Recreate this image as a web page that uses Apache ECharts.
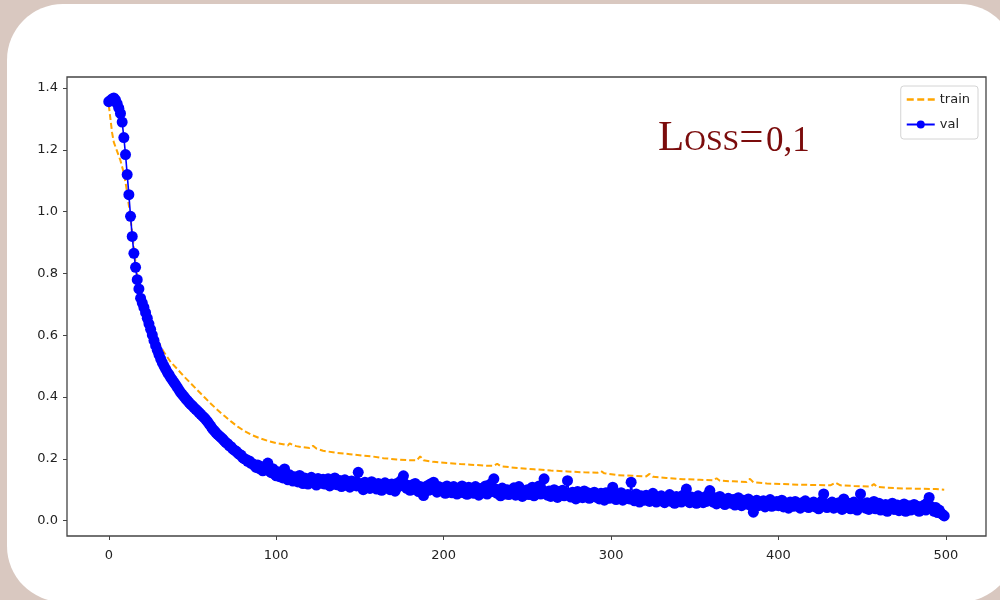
<!DOCTYPE html>
<html><head><meta charset="utf-8">
<script src="https://cdn.jsdelivr.net/npm/echarts@6/dist/echarts.min.js"></script>
<style>html,body{margin:0;padding:0;background:#d9c8c0;}#c{width:1000px;height:600px;}</style>
</head><body><div id="c"></div>
<script>
// validation loss, one value per epoch (0..499)
const valLoss = [
1.356,1.360,1.365,1.368,1.362,1.350,1.335,1.318,1.290,1.240,
1.185,1.120,1.055,0.985,0.920,0.865,0.820,0.780,0.750,0.720,
0.705,0.690,0.673,0.655,0.637,0.619,0.601,0.583,0.566,0.551,
0.537,0.523,0.511,0.500,0.490,0.480,0.472,0.463,0.455,0.447,
0.439,0.431,0.422,0.414,0.408,0.401,0.394,0.388,0.382,0.376,
0.371,0.365,0.360,0.355,0.349,0.344,0.338,0.333,0.327,0.320,
0.312,0.305,0.297,0.291,0.285,0.279,0.274,0.269,0.264,0.258,
0.252,0.249,0.242,0.239,0.232,0.228,0.225,0.219,0.214,0.212,
0.204,0.200,0.198,0.192,0.193,0.185,0.184,0.179,0.172,0.180,
0.168,0.174,0.161,0.170,0.178,0.186,0.160,0.155,0.168,0.150,
0.145,0.158,0.142,0.150,0.138,0.167,0.140,0.132,0.148,0.136,
0.128,0.142,0.135,0.125,0.146,0.133,0.120,0.138,0.128,0.118,
0.132,0.140,0.122,0.130,0.115,0.136,0.127,0.121,0.134,0.118,
0.126,0.135,0.112,0.128,0.120,0.138,0.116,0.124,0.130,0.110,
0.122,0.132,0.114,0.126,0.108,0.128,0.118,0.125,0.112,0.156,
0.120,0.110,0.100,0.124,0.113,0.118,0.104,0.126,0.108,0.115,
0.102,0.120,0.112,0.098,0.113,0.122,0.106,0.116,0.100,0.118,
0.108,0.095,0.120,0.110,0.126,0.132,0.145,0.118,0.104,0.112,
0.098,0.115,0.106,0.120,0.102,0.094,0.110,0.090,0.081,0.104,
0.112,0.098,0.118,0.108,0.124,0.100,0.092,0.110,0.096,0.106,
0.102,0.088,0.112,0.095,0.104,0.090,0.110,0.098,0.086,0.105,
0.096,0.112,0.090,0.100,0.085,0.108,0.094,0.102,0.088,0.110,
0.095,0.082,0.104,0.098,0.090,0.112,0.086,0.100,0.118,0.094,
0.135,0.102,0.088,0.096,0.080,0.105,0.092,0.086,0.100,0.084,
0.098,0.090,0.106,0.082,0.094,0.110,0.088,0.078,0.096,0.086,
0.100,0.084,0.092,0.108,0.080,0.095,0.088,0.112,0.086,0.098,
0.135,0.090,0.082,0.096,0.078,0.092,0.100,0.085,0.075,0.094,
0.086,0.098,0.080,0.090,0.129,0.084,0.076,0.092,0.088,0.070,
0.094,0.082,0.088,0.074,0.096,0.080,0.090,0.072,0.086,0.078,
0.092,0.076,0.084,0.070,0.088,0.082,0.066,0.090,0.078,0.072,
0.085,0.108,0.076,0.068,0.082,0.074,0.090,0.066,0.080,0.072,
0.084,0.070,0.124,0.078,0.064,0.086,0.072,0.060,0.080,0.074,
0.066,0.082,0.070,0.062,0.078,0.088,0.068,0.060,0.076,0.064,
0.080,0.070,0.058,0.074,0.066,0.084,0.062,0.072,0.056,0.078,
0.068,0.074,0.060,0.082,0.070,0.102,0.064,0.058,0.076,0.066,
0.072,0.056,0.080,0.064,0.070,0.058,0.076,0.062,0.084,0.097,
0.068,0.060,0.074,0.054,0.066,0.078,0.058,0.070,0.052,0.064,
0.072,0.060,0.056,0.068,0.050,0.064,0.074,0.058,0.048,0.066,
0.060,0.054,0.070,0.050,0.062,0.027,0.056,0.066,0.048,0.058,
0.052,0.064,0.044,0.060,0.054,0.068,0.046,0.058,0.050,0.062,
0.048,0.056,0.066,0.044,0.058,0.050,0.040,0.060,0.052,0.046,
0.062,0.048,0.054,0.040,0.058,0.046,0.064,0.050,0.042,0.056,
0.048,0.060,0.044,0.052,0.038,0.056,0.064,0.086,0.050,0.042,
0.054,0.046,0.060,0.040,0.052,0.044,0.058,0.048,0.036,0.070,
0.050,0.042,0.056,0.038,0.048,0.060,0.044,0.034,0.052,0.086,
0.046,0.054,0.040,0.058,0.036,0.050,0.044,0.062,0.038,0.048,
0.056,0.034,0.046,0.040,0.052,0.030,0.048,0.042,0.056,0.036,
0.044,0.050,0.032,0.046,0.038,0.054,0.030,0.042,0.048,0.034,
0.040,0.052,0.036,0.046,0.030,0.044,0.038,0.050,0.034,0.058,
0.075,0.046,0.036,0.030,0.042,0.026,0.034,0.024,0.020,0.015
];
// training loss (epoch, value)
const trainEpochs = [0,1,2,3,4,5,6,7,8,9,10,11,12,13,14,15,16,17,18,19,20,22,24,26,28,30,33,37,41,45,49,53,57,61,65,69,73,77,81,85,90,95,100,105,107,108,110,112,115,120,122,124,128,135,144,152,158,164,172,180,184,186,188,194,202,210,216,224,230,232,234,244,254,264,274,284,292,294,296,304,313,321,323,325,333,343,353,361,363,365,373,381,383,385,393,403,413,423,431,434,437,445,455,457,459,465,475,485,494,499];
const trainLoss = [1.345,1.300,1.255,1.225,1.210,1.195,1.180,1.165,1.145,1.125,1.095,1.060,1.020,0.980,0.930,0.880,0.835,0.795,0.760,0.730,0.705,0.670,0.640,0.615,0.592,0.572,0.545,0.513,0.490,0.466,0.444,0.422,0.400,0.378,0.358,0.339,0.321,0.304,0.290,0.278,0.267,0.258,0.251,0.246,0.243,0.250,0.244,0.241,0.238,0.235,0.242,0.233,0.226,0.220,0.215,0.210,0.207,0.202,0.198,0.195,0.195,0.208,0.195,0.190,0.186,0.183,0.181,0.178,0.177,0.184,0.176,0.170,0.166,0.162,0.159,0.156,0.155,0.160,0.153,0.147,0.145,0.143,0.151,0.142,0.138,0.134,0.132,0.130,0.137,0.129,0.127,0.125,0.135,0.124,0.120,0.118,0.116,0.115,0.114,0.123,0.114,0.112,0.110,0.118,0.109,0.106,0.104,0.103,0.102,0.100];
const xTicks = [0,100,200,300,400,500];
const yTicks = [0.0,0.2,0.4,0.6,0.8,1.0,1.2,1.4];
const seriesNames = ['train','val'];
const annotationMain = 'Loss=';
const annotationValue = '0,1';

const chart = echarts.init(document.getElementById('c'), null, {renderer:'canvas'});
const valData = valLoss.map((v,i)=>[i,v]);
const trainData = trainEpochs.map((e,i)=>[e,trainLoss[i]]);
const tickFont = {fontFamily:'DejaVu Sans', fontSize:13, color:'#222'};
chart.setOption({
  animation:false,
  backgroundColor:'transparent',
  graphic:[
    {type:'rect', z:-10, silent:true, shape:{x:7,y:4,width:1009,height:598,r:56}, style:{fill:'#ffffff'}},
    {type:'text', z:100, x:658, y:139, style:{text:annotationMain, font:'small-caps 43px "Liberation Serif"', fill:'#7b0c0c', textAlign:'left', textVerticalAlign:'middle'}},
    {type:'text', z:100, x:766, y:141.5, style:{text:annotationValue, font:'35px "Liberation Serif"', fill:'#7b0c0c', textAlign:'left', textVerticalAlign:'middle'}}
  ],
  grid:{left:67,right:14,top:77,bottom:64,show:true,borderColor:'#444',borderWidth:1.3,backgroundColor:'transparent'},
  legend:{
    orient:'vertical', right:22, top:86,
    data:[{name:seriesNames[0], icon:'path://M0,0h6v2h-6zM9,0h6v2h-6zM18,0h6v2h-6z'},{name:seriesNames[1]}],
    itemWidth:28, itemHeight:10, itemGap:12,
    padding:[7,8,8,5],
    backgroundColor:'#fff', borderColor:'#d4d4d4', borderWidth:1, borderRadius:3,
    textStyle:{fontFamily:'DejaVu Sans', fontSize:13, color:'#222'},
    selectedMode:false
  },
  xAxis:{
    type:'value', min:-24.95, max:523.95,
    axisLine:{show:false, onZero:false},
    axisTick:{show:true, length:4, customValues:xTicks, lineStyle:{color:'#444',width:1}},
    axisLabel:{customValues:xTicks, margin:13, ...tickFont, formatter:v=>String(Math.round(v))},
    splitLine:{show:false}
  },
  yAxis:{
    type:'value', min:-0.05, max:1.436,
    axisLine:{show:false, onZero:false},
    axisTick:{show:true, length:4, customValues:yTicks, lineStyle:{color:'#444',width:1}},
    axisLabel:{customValues:yTicks, margin:9, ...tickFont, formatter:v=>v.toFixed(1)},
    splitLine:{show:false}
  },
  series:[
    {name:seriesNames[0], type:'line', data:trainData, symbol:'none', color:'#ffa500', z:2,
     lineStyle:{color:'#ffa500', width:2, type:[6,3]}, emphasis:{disabled:true}, silent:true},
    {name:seriesNames[1], type:'line', data:valData, symbol:'circle', symbolSize:11, showAllSymbol:true, color:'#0000ff', z:3,
     itemStyle:{color:'#0000ff', borderWidth:0}, lineStyle:{color:'#0000ff', width:1.6}, emphasis:{disabled:true}, silent:true}
  ]
});
</script></body></html>
